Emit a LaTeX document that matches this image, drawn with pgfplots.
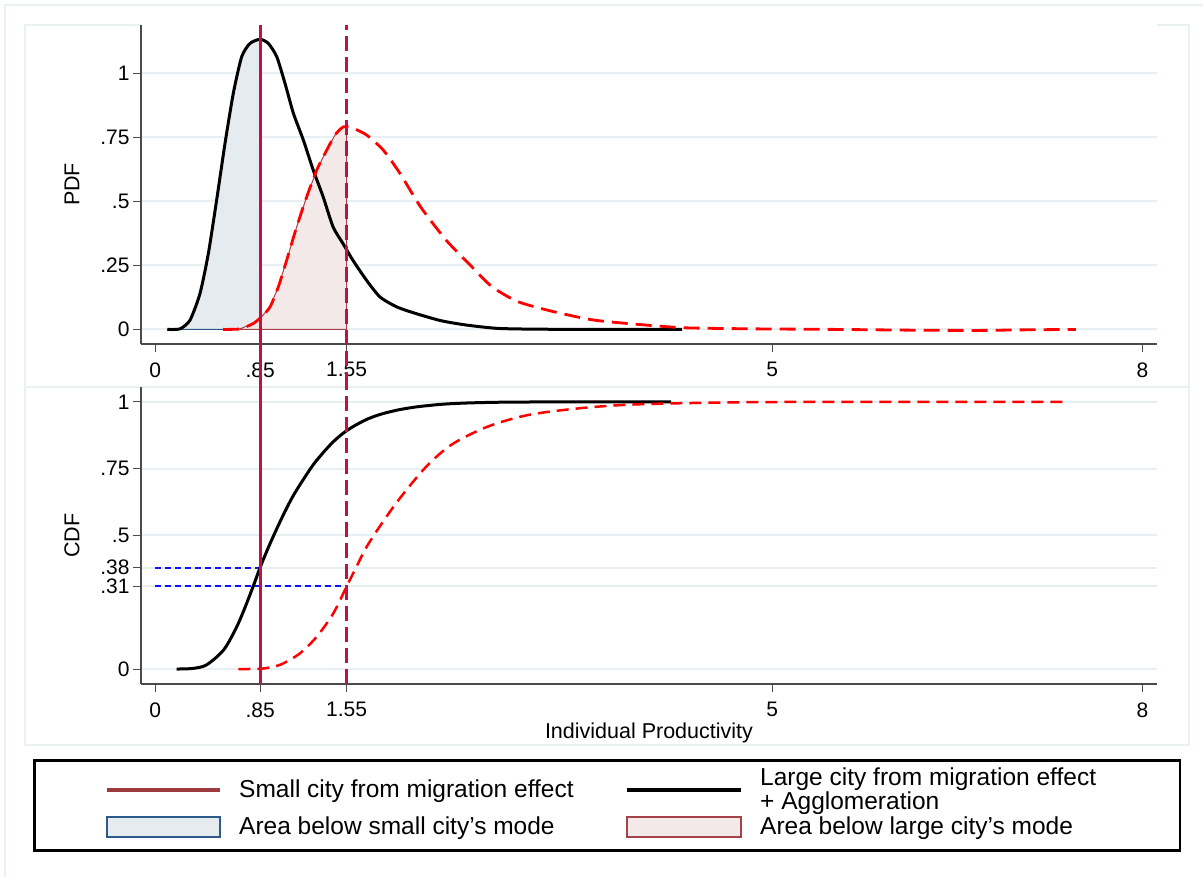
\documentclass[border=0pt]{standalone}
\usepackage{pgfplots}
\pgfplotsset{compat=1.18}
\usepackage{fontspec}
\setmainfont{Liberation Sans}
\definecolor{vline}{HTML}{C01240}
\definecolor{legline}{HTML}{9C3A3E}
\definecolor{gridc}{HTML}{E8EFF2}
\definecolor{panel}{HTML}{EAF1F3}
\definecolor{bluefill}{HTML}{E6EBF0}
\definecolor{blueedge}{HTML}{2E5A8A}
\definecolor{pinkfill}{HTML}{F3E9E8}
\definecolor{pinkedge}{HTML}{A8424A}
\definecolor{axc}{HTML}{4A4A4A}
\definecolor{refblue}{HTML}{1010FF}
\pgfplotsset{
  mystyle/.style={
    scale only axis, width=1016pt,
    xmin=-0.116, xmax=8.117,
    axis x line*=bottom, axis y line*=left,
    axis line style={axc, line width=1.3pt, -},
    tick align=outside, major tick length=8pt,
    tick style={axc, line width=1pt},
    xtick={0,0.85,1.55,5,8}, xticklabels={0,.85,1.55,5,8},
    ymajorgrids, major grid style={gridc, line width=2pt},
    tick label style={font=\fontsize{21}{24}\selectfont, black},
    label style={font=\fontsize{21.5}{25}\selectfont},
    every x tick label/.append style={yshift=-7pt},
    clip=false,
  }
}
\begin{document}
\begin{tikzpicture}
\useasboundingbox (0,0) rectangle (1203pt,877pt);
\fill[white] (0,0) rectangle (1203pt,877pt);
\begin{scope}[x=1pt,y=-1pt,shift={(0pt,877pt)}]
\draw[panel, line width=1.5pt] (5,877) -- (5,5) -- (1203,5);
\draw[panel, line width=1.5pt] (141,25) -- (25,25) -- (25,387) -- (1189,387) -- (1189,25) -- (1157,25);
\draw[panel, line width=1.5pt] (25,387) -- (25,745) -- (1189,745) -- (1189,387);
\end{scope}

% ---------------- PDF panel ----------------
\begin{axis}[mystyle, at={(141pt,533pt)}, anchor=south west, height=319pt,
  ymin=-0.057, ymax=1.189,
  ytick={0,0.25,0.5,0.75,1}, yticklabels={0,.25,.5,.75,1},
  ylabel={PDF}, ylabel style={at={(axis description cs:-0.0679,0.5)}, anchor=center}]
\addplot[fill=bluefill, draw=blueedge, line width=1pt] coordinates {
(0.097,0)(0.2,0.002)(0.281,0.036)(0.362,0.14)(0.43,0.297)(0.497,0.505)(0.565,0.727)(0.632,0.922)(0.70,1.065)(0.767,1.117)(0.85,1.133)(0.85,0)} -- cycle;
\addplot[fill=pinkfill, draw=pinkedge, line width=1pt] coordinates {
(0.55,0)(0.686,0.002)(0.794,0.023)(0.862,0.05)(0.93,0.088)(0.997,0.166)(1.065,0.271)(1.146,0.401)(1.227,0.518)(1.308,0.622)(1.389,0.70)(1.456,0.759)(1.524,0.791)(1.55,0.792)(1.55,0)} -- cycle;
\addplot[black, line width=3pt, smooth, tension=0.4] coordinates {
(0.097,0)(0.2,0.002)(0.281,0.036)(0.362,0.14)(0.43,0.297)(0.497,0.505)(0.565,0.727)(0.632,0.922)(0.70,1.065)(0.767,1.117)(0.849,1.133)(0.916,1.117)(0.984,1.065)(1.051,0.961)(1.119,0.844)(1.2,0.739)(1.28,0.622)(1.36,0.518)(1.44,0.401)(1.52,0.336)(1.60,0.271)(1.71,0.193)(1.82,0.127)(1.956,0.088)(2.108,0.0625)(2.315,0.034)(2.52,0.017)(2.77,0.004)(3.06,0.001)(3.5,0)(4.27,0)};
\addplot[red, line width=2.8pt, dash pattern=on 16pt off 8pt, smooth, tension=0.4] coordinates {
(0.55,0)(0.686,0.002)(0.794,0.023)(0.862,0.05)(0.93,0.088)(0.997,0.166)(1.065,0.271)(1.146,0.401)(1.227,0.518)(1.308,0.622)(1.389,0.70)(1.456,0.759)(1.524,0.791)(1.605,0.785)(1.713,0.759)(1.848,0.70)(1.983,0.609)(2.149,0.479)(2.356,0.349)(2.564,0.245)(2.73,0.166)(2.94,0.108)(3.23,0.069)(3.56,0.036)(3.975,0.017)(4.31,0.006)(4.88,0.002)(5.5,0)(6.13,-0.003)(6.67,-0.004)(7.0,-0.002)(7.46,0)};
\addplot[vline, line width=3pt] coordinates {(0.85,-0.225)(0.85,1.189)};
\addplot[vline, line width=3pt, dash pattern=on 15pt off 6pt] coordinates {(1.55,-0.225)(1.55,1.189)};
\end{axis}

% ---------------- CDF panel ----------------
\begin{axis}[mystyle, at={(141pt,193pt)}, anchor=south west, height=297pt,
  ymin=-0.056, ymax=1.056,
  ytick={0,0.31,0.38,0.5,0.75,1}, yticklabels={0,.31,.38,.5,.75,1},
  ylabel={CDF}, ylabel style={at={(axis description cs:-0.0679,0.5)}, anchor=center},
  xlabel={Individual Productivity}, xlabel style={at={(axis description cs:0.5,-0.165)}, anchor=center}]
\addplot[refblue, line width=2pt, dash pattern=on 6pt off 4pt] coordinates {(0,0.38)(0.85,0.38)};
\addplot[refblue, line width=2pt, dash pattern=on 6pt off 4pt] coordinates {(0,0.31)(1.55,0.31)};
\addplot[black, line width=3pt, smooth, tension=0.5] coordinates {
(0.173,0)(0.30,0.002)(0.40,0.012)(0.48,0.038)(0.551,0.07)(0.60,0.105)(0.66,0.158)(0.70,0.2)(0.741,0.247)(0.80,0.318)(0.849,0.38)(0.916,0.455)(0.984,0.525)(1.051,0.59)(1.119,0.65)(1.2,0.71)(1.28,0.765)(1.36,0.81)(1.44,0.85)(1.52,0.882)(1.60,0.907)(1.71,0.934)(1.82,0.953)(1.956,0.969)(2.108,0.981)(2.315,0.991)(2.52,0.996)(2.8,0.999)(3.2,1)(4.18,1)};
\addplot[red, line width=2.5pt, dash pattern=on 12pt off 7pt, smooth, tension=0.5] coordinates {
(0.673,0)(0.85,0.001)(0.95,0.008)(1.037,0.021)(1.173,0.059)(1.308,0.121)(1.443,0.209)(1.551,0.31)(1.63,0.383)(1.713,0.458)(1.85,0.555)(1.983,0.64)(2.19,0.755)(2.40,0.84)(2.69,0.907)(3.02,0.951)(3.43,0.976)(3.85,0.99)(4.47,0.997)(5.22,1)(7.36,1)};
\addplot[vline, line width=3pt] coordinates {(0.85,-0.056)(0.85,1.056)};
\addplot[vline, line width=3pt, dash pattern=on 15pt off 6pt] coordinates {(1.55,-0.056)(1.55,1.056)};
\end{axis}

% ---------------- legend ----------------
\begin{scope}[x=1pt,y=-1pt,shift={(0pt,877pt)}]
\draw[black, line width=2.5pt] (34.5,760.7) rectangle (1180,850.7);
\draw[legline, line width=4.5pt] (107,790) -- (220,790);
\draw[black, line width=4.5pt] (627,790) -- (741,790);
\draw[blueedge, fill=bluefill, line width=1.5pt] (107,817) rectangle (220,837);
\draw[pinkedge, fill=pinkfill, line width=1.5pt] (627,817) rectangle (741,837);
\begin{scope}[every node/.style={anchor=west, inner sep=0pt, font=\fontsize{24.5}{28}\selectfont}]
\node at (239,791) {Small city from migration effect};
\node at (760,779) {Large city from migration effect};
\node at (760,803) {+ Agglomeration};
\node at (239,828) {Area below small city's mode};
\node at (760,828) {Area below large city's mode};
\end{scope}
\end{scope}
\end{tikzpicture}
\end{document}
